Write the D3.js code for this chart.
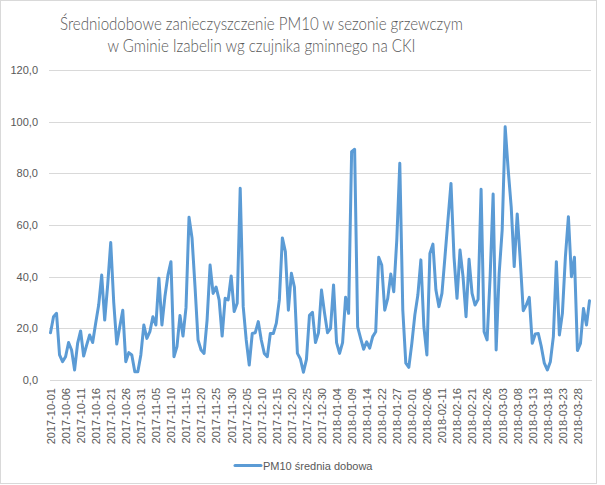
<!DOCTYPE html>
<html><head><meta charset="utf-8">
<script src="https://cdn.jsdelivr.net/npm/d3@7"></script>
<style>
html,body{margin:0;padding:0;background:#fff;}
svg{display:block;}
text{font-family:"Liberation Sans",Arial,sans-serif;fill:#595959;}
</style></head><body>
<svg id="c" width="605" height="485"></svg>
<script>
const titleLines = ["Średniodobowe zanieczyszczenie PM10 w sezonie grzewczym","w Gminie Izabelin wg czujnika gminnego na CKI"];
const seriesName = "PM10 średnia dobowa";
const dates = [
"2017-10-01","2017-10-02","2017-10-03","2017-10-04","2017-10-05","2017-10-06","2017-10-07","2017-10-08","2017-10-09","2017-10-10",
"2017-10-11","2017-10-12","2017-10-13","2017-10-14","2017-10-15","2017-10-16","2017-10-17","2017-10-18","2017-10-19","2017-10-20",
"2017-10-21","2017-10-22","2017-10-23","2017-10-24","2017-10-25","2017-10-26","2017-10-27","2017-10-28","2017-10-29","2017-10-30",
"2017-10-31","2017-11-01","2017-11-02","2017-11-03","2017-11-04","2017-11-05","2017-11-06","2017-11-07","2017-11-08","2017-11-09",
"2017-11-10","2017-11-11","2017-11-12","2017-11-13","2017-11-14","2017-11-15","2017-11-16","2017-11-17","2017-11-18","2017-11-19",
"2017-11-20","2017-11-21","2017-11-22","2017-11-23","2017-11-24","2017-11-25","2017-11-26","2017-11-27","2017-11-28","2017-11-29",
"2017-11-30","2017-12-01","2017-12-02","2017-12-03","2017-12-04","2017-12-05","2017-12-06","2017-12-07","2017-12-08","2017-12-09",
"2017-12-10","2017-12-11","2017-12-12","2017-12-13","2017-12-14","2017-12-15","2017-12-16","2017-12-17","2017-12-18","2017-12-19",
"2017-12-20","2017-12-21","2017-12-22","2017-12-23","2017-12-24","2017-12-25","2017-12-26","2017-12-27","2017-12-28","2017-12-29",
"2017-12-30","2017-12-31","2018-01-01","2018-01-02","2018-01-03","2018-01-04","2018-01-05","2018-01-06","2018-01-07","2018-01-08",
"2018-01-09","2018-01-10","2018-01-11","2018-01-12","2018-01-13","2018-01-14","2018-01-18","2018-01-19","2018-01-20","2018-01-21",
"2018-01-22","2018-01-23","2018-01-24","2018-01-25","2018-01-26","2018-01-27","2018-01-28","2018-01-29","2018-01-30","2018-01-31",
"2018-02-01","2018-02-02","2018-02-03","2018-02-04","2018-02-05","2018-02-06","2018-02-07","2018-02-08","2018-02-09","2018-02-10",
"2018-02-11","2018-02-12","2018-02-13","2018-02-14","2018-02-15","2018-02-16","2018-02-17","2018-02-18","2018-02-19","2018-02-20",
"2018-02-21","2018-02-22","2018-02-23","2018-02-24","2018-02-25","2018-02-26","2018-02-27","2018-02-28","2018-03-01","2018-03-02",
"2018-03-03","2018-03-04","2018-03-05","2018-03-06","2018-03-07","2018-03-08","2018-03-09","2018-03-10","2018-03-11","2018-03-12",
"2018-03-13","2018-03-14","2018-03-15","2018-03-16","2018-03-17","2018-03-18","2018-03-19","2018-03-20","2018-03-21","2018-03-22",
"2018-03-23","2018-03-24","2018-03-25","2018-03-26","2018-03-27","2018-03-28","2018-03-29","2018-03-30","2018-03-31","2018-04-01"];
const pm10 = [
18.3,24.5,25.8,9.7,7.1,9.0,14.5,11.6,3.9,14.2,
19.0,9.3,13.5,17.4,14.5,22.0,29.0,40.6,23.2,37.0,
53.2,30.0,13.9,20.6,27.0,7.1,10.6,9.7,3.2,3.2,
9.7,21.3,16.1,18.7,24.5,21.3,39.4,21.3,32.3,40.6,
45.8,9.0,12.9,25.0,17.0,28.0,63.0,55.0,36.0,15.5,
11.6,10.3,23.2,44.5,33.5,36.0,31.0,17.0,31.6,31.0,
40.3,26.5,29.7,74.2,28.4,15.5,5.8,18.0,18.3,22.6,
15.5,10.3,9.0,18.0,18.0,22.0,31.0,55.0,49.7,27.0,
41.3,36.0,10.3,8.1,3.0,8.0,25.0,26.2,14.5,18.3,
34.8,26.0,18.3,20.0,36.8,14.5,10.3,14.5,32.0,25.8,
88.4,89.3,20.6,16.1,11.9,14.8,12.3,16.8,18.7,47.5,
44.5,27.0,31.6,41.0,34.2,54.2,83.9,27.0,6.5,4.9,
14.2,25.2,32.9,46.5,20.6,9.7,49.0,52.6,34.8,28.4,
33.5,47.7,62.0,76.1,47.7,31.6,50.3,40.0,24.5,46.7,
33.5,29.0,31.2,73.8,18.7,15.5,40.0,72.0,11.6,41.3,
58.0,98.0,81.3,67.0,43.9,64.3,46.5,26.8,29.0,32.0,
14.2,17.8,18.0,12.9,6.5,3.9,7.1,16.8,45.8,17.4,
25.8,47.7,63.2,40.0,47.5,11.4,14.2,27.7,21.3,30.7];
const yTicks = [0,20,40,60,80,100,120];
const xTickLabels = dates.filter((d,i)=> i % 5 === 0);

const svg = d3.select("#c");
const L = 49, R = 591, T = 70, B = 380;
const lineColor = "#5B9BD5", gridColor = "#d9d9d9";

// chart area border
svg.append("rect").attr("x",0.5).attr("y",0.5).attr("width",596).attr("height",483)
  .attr("fill","#fff").attr("stroke",gridColor).attr("stroke-width",1);

// title
const tl = [{t:titleLines[0], y:29.5, w:403},{t:titleLines[1], y:52, w:308}];
tl.forEach(o=>{
  const t = svg.append("text").attr("x",261.5).attr("y",o.y).attr("text-anchor","middle")
    .style("font-family",'Lato,"Open Sans",sans-serif').style("font-weight","300")
    .style("font-size","18.5px").attr("fill","#595959").text(o.t);
  t.attr("textLength",o.w).attr("lengthAdjust","spacingAndGlyphs");
});

const x = d3.scalePoint().domain(dates).range([L,R]).padding(0.5);
const y = d3.scaleLinear().domain([0,120]).range([B,T]);

// gridlines
const grid = svg.append("g").attr("transform",`translate(${L},0)`)
  .call(d3.axisLeft(y).tickValues(yTicks.filter(v=>v>0)).tickSize(-(R-L)).tickFormat(""));
grid.select(".domain").remove();
grid.selectAll("line").attr("stroke",gridColor).attr("stroke-width",1).attr("shape-rendering","crispEdges");

// y axis labels
const ya = svg.append("g").attr("transform",`translate(${L},0)`)
  .call(d3.axisLeft(y).tickValues(yTicks).tickSize(0).tickPadding(11)
    .tickFormat(v=> d3.format(".1f")(v).replace(".",",")));
ya.select(".domain").remove();
ya.selectAll("text").style("font-size","11px").attr("fill","#595959").style("font-family",'"Liberation Sans",Arial,sans-serif');

// x axis
const xa = svg.append("g").attr("transform",`translate(0,${B})`)
  .call(d3.axisBottom(x).tickValues(xTickLabels).tickSize(0).tickPadding(0));
xa.select(".domain").attr("stroke",gridColor).attr("shape-rendering","crispEdges");
xa.selectAll("text")
  .attr("transform","rotate(-90)")
  .attr("text-anchor","end")
  .attr("x",-8).attr("y",0).attr("dy","0.35em")
  .style("font-size","11px").attr("fill","#595959").style("font-family",'"Liberation Sans",Arial,sans-serif');

// line
const line = d3.line().x((d,i)=>x(dates[i])).y(d=>y(d));
svg.append("path").datum(pm10).attr("d",line)
  .attr("fill","none").attr("stroke",lineColor).attr("stroke-width",3)
  .attr("stroke-linejoin","round").attr("stroke-linecap","round");

// legend
svg.append("line").attr("x1",235).attr("x2",261).attr("y1",465.5).attr("y2",465.5)
  .attr("stroke",lineColor).attr("stroke-width",3).attr("stroke-linecap","round");
svg.append("text").attr("x",263).attr("y",469.5).style("font-size","11px")
  .attr("fill","#595959").text(seriesName);
</script></body></html>
